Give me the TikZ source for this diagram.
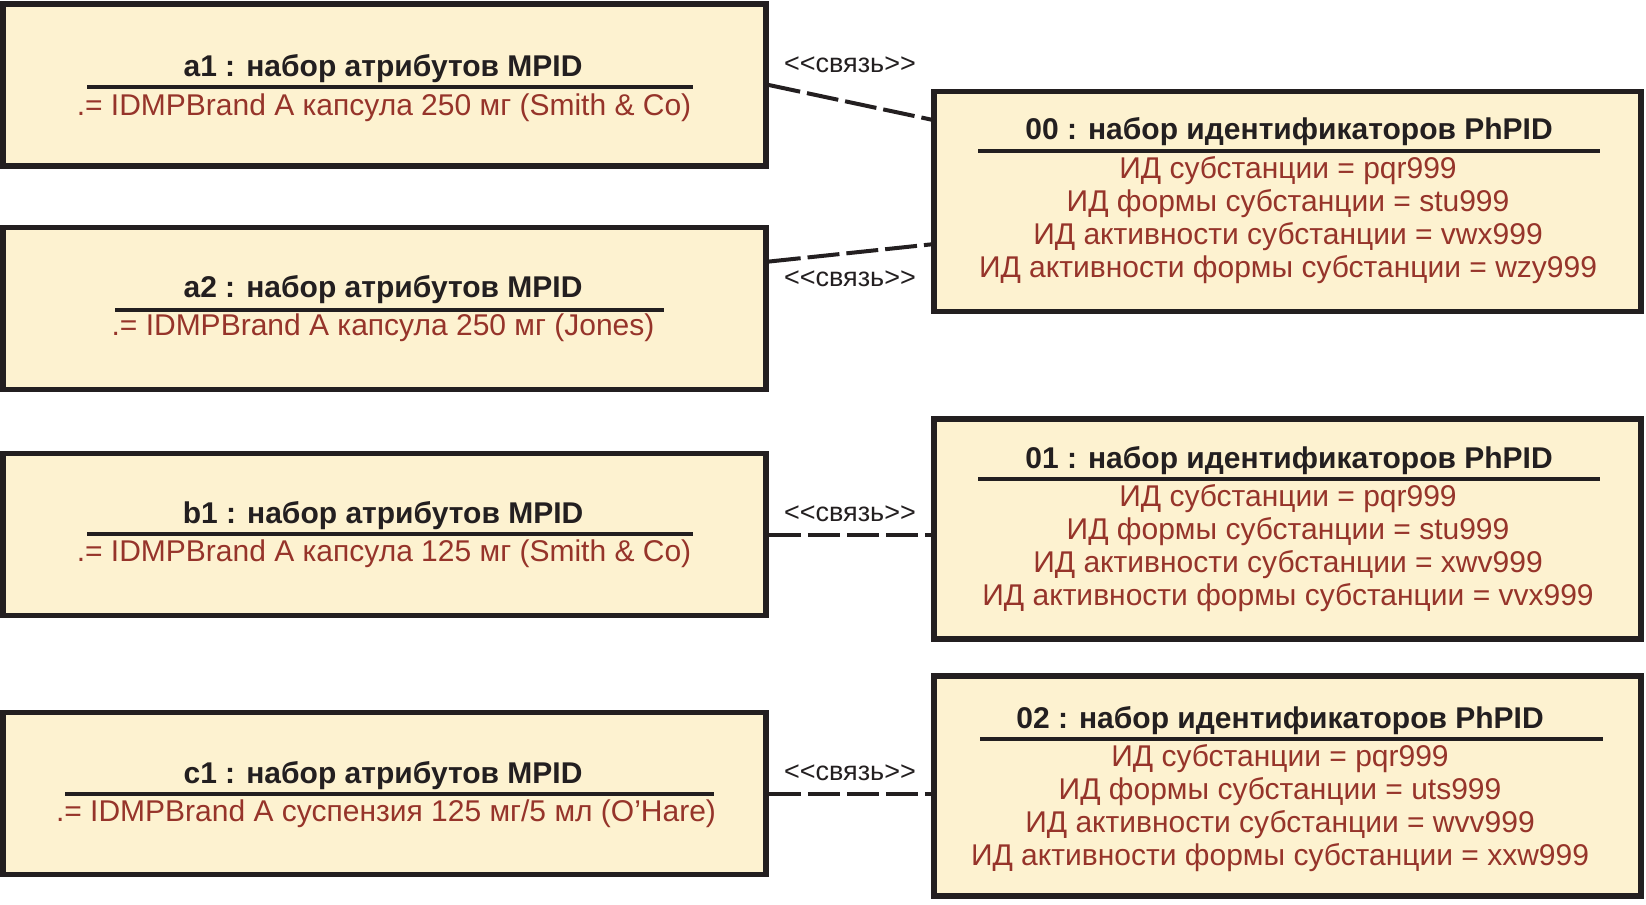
\documentclass[tikz,border=0pt]{standalone}
\usepackage{fontspec}
\setmainfont{Liberation Sans}
\usetikzlibrary{calc}
\definecolor{boxfill}{RGB}{253,242,208}
\definecolor{attrtext}{RGB}{150,52,42}
\definecolor{inkblack}{RGB}{35,31,32}

\begin{document}
\begin{tikzpicture}[x=0.5pt,y=-0.5pt]
\tikzstyle{obj}=[rectangle,draw=inkblack,fill=boxfill,line width=2.8pt,inner sep=0pt]
\tikzstyle{mpid}=[obj,minimum width=381.5pt,minimum height=81pt]
\tikzstyle{phpid}=[obj,minimum width=353.5pt,minimum height=110pt]
\tikzstyle{title}=[font=\fontsize{15}{16.5}\selectfont\bfseries,text=inkblack,inner sep=0pt,yshift=-1.5pt]
\tikzstyle{attr}=[font=\fontsize{15}{16.5}\selectfont,text=attrtext,align=center,inner sep=0pt,yshift=-1.5pt]
\tikzstyle{sep}=[draw=inkblack,line width=2pt]
\tikzstyle{link}=[draw=inkblack,line width=2pt,dash pattern=on 16pt off 3.5pt]
\tikzstyle{stereo}=[font=\fontsize{13.5}{14}\selectfont,text=inkblack,inner sep=0pt]
\useasboundingbox (0,0) rectangle (1646,905);

% MPID objects
\node[mpid] (a1) at (384.5,85) {};
\node[mpid] (a2) at (384.5,308.5) {};
\node[mpid] (b1) at (384.5,534.5) {};
\node[mpid] (c1) at (384.5,793.5) {};

% PhPID objects
\node[phpid] (o0) at (1287.5,201.5) {};
\node[phpid] (o1) at (1287.5,529) {};
\node[phpid] (o2) at (1287.5,786) {};

% a1
\node[title] (a1t) at (383,66) {a1 : набор атрибутов MPID};
\draw[sep] (87,87) -- (693,87);
\node[attr] (a1v) at (384,105) {.= IDMPBrand A капсула 250 мг (Smith \& Co)};
% a2
\node[title] (a2t) at (383,287) {a2 : набор атрибутов MPID};
\draw[sep] (115,310) -- (664,310);
\node[attr] (a2v) at (383,325) {.= IDMPBrand A капсула 250 мг (Jones)};
% b1
\node[title] (b1t) at (383,513) {b1 : набор атрибутов MPID};
\draw[sep] (87,534) -- (693,534);
\node[attr] (b1v) at (384,551) {.= IDMPBrand A капсула 125 мг (Smith \& Co)};
% c1
\node[title] (c1t) at (383,773) {c1 : набор атрибутов MPID};
\draw[sep] (65,794) -- (714,794);
\node[attr] (c1v) at (386,811) {.= IDMPBrand A суспензия 125 мг/5 мл (O'Hare)};

% 00
\node[title] (o0t) at (1289,129) {00 : набор идентификаторов PhPID};
\draw[sep] (978,151) -- (1600,151);
\node[attr] (o0v) at (1288,217.5) {ИД субстанции = pqr999\\ИД формы субстанции = stu999\\ИД активности субстанции = vwx999\\ИД активности формы субстанции = wzy999};
% 01
\node[title] (o1t) at (1289,458) {01 : набор идентификаторов PhPID};
\draw[sep] (978,479) -- (1600,479);
\node[attr] (o1v) at (1288,545.5) {ИД субстанции = pqr999\\ИД формы субстанции = stu999\\ИД активности субстанции = xwv999\\ИД активности формы субстанции = vvx999};
% 02
\node[title] (o2t) at (1280,718) {02 : набор идентификаторов PhPID};
\draw[sep] (980,739) -- (1603,739);
\node[attr] (o2v) at (1280,805) {ИД субстанции = pqr999\\ИД формы субстанции = uts999\\ИД активности субстанции = wvv999\\ИД активности формы субстанции = xxw999};

% links
\draw[link] (a1.east) -- ($(o0.north west)!0.137!(o0.south west)$);
\draw[link] ($(a2.north east)!0.22!(a2.south east)$) -- ($(o0.north west)!0.69!(o0.south west)$);
\draw[link] (b1.east) -- (b1.east -| o1.west);
\draw[link] (c1.east) -- (c1.east -| o2.west);
\node[stereo] (l1) at (850,65) {<\kern0pt<связь>\kern0pt>};
\node[stereo] (l2) at (850,279) {<\kern0pt<связь>\kern0pt>};
\node[stereo] (l3) at (850,514) {<\kern0pt<связь>\kern0pt>};
\node[stereo] (l4) at (850,773) {<\kern0pt<связь>\kern0pt>};
\end{tikzpicture}
\end{document}
